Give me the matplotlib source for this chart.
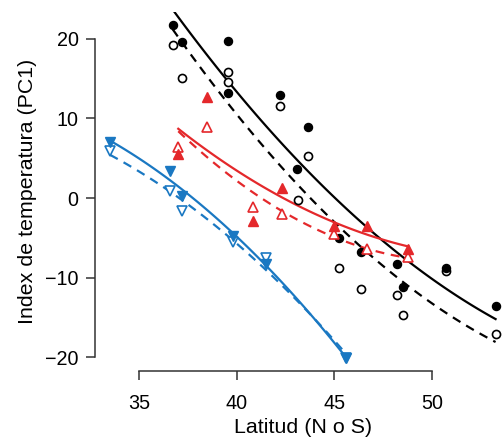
import matplotlib.pyplot as plt
import numpy as np

plt.rcParams['font.family'] = ['Liberation Sans', 'DejaVu Sans']

# black circles: filled = solid fit, open = dashed fit
lat_k = [36.71, 37.17, 39.55, 39.55, 42.20, 43.62, 43.06, 45.24, 46.35, 48.22, 48.51, 50.73, 53.25]
pc_k_fill = [21.70, 19.60, 19.72, 13.11, 12.89, 8.91, 3.67, -5.01, -6.82, -8.28, -11.13, -8.78, -13.52]
lat_k_open = [36.71, 37.17, 39.55, 39.55, 42.20, 43.62, 43.11, 45.24, 46.35, 48.22, 48.51, 50.73, 53.25]
pc_k_open = [19.18, 15.07, 15.82, 14.57, 11.51, 5.22, -0.19, -8.78, -11.42, -12.14, -14.65, -9.21, -17.08]

# red triangles (up)
lat_r = [37.00, 38.48, 40.83, 42.32, 44.96, 46.64, 48.79]
pc_r_fill = [5.47, 12.68, -2.83, 1.28, -3.46, -3.55, -6.39]
pc_r_open = [6.39, 8.91, -1.16, -1.99, -4.50, -6.39, -7.45]

# blue triangles (down)
lat_b = [33.50, 36.57, 37.17, 39.81, 41.47, 45.61]
pc_b_fill = [7.02, 3.37, 0.31, -4.72, -8.28, -20.03]
pc_b_open = [5.89, 0.94, -1.57, -5.56, -7.57, -20.03]

red = '#e4282b'
blue = '#1a78c2'

fig = plt.figure(figsize=(5.04, 4.38), dpi=100)
ax = fig.add_axes([94.5/504, 1 - 371/438, (511 - 94.5)/504, (371 - 11.7)/438])
ax.set_xlim(32.71, 54.04)
ax.set_ylim(-21.7, 23.37)


def fit(x, y, **kw):
    c = np.polyfit(x, y, 2)
    xs = np.linspace(min(x), max(x), 100)
    ax.plot(xs, np.polyval(c, xs), **kw)


fit(lat_k, pc_k_fill, color='black', lw=1.6)
fit(lat_k_open, pc_k_open, color='black', lw=1.6, ls=(0, (4, 3)))
fit(lat_r, pc_r_fill, color=red, lw=1.6)
fit(lat_r, pc_r_open, color=red, lw=1.6, ls=(0, (4, 3)))
fit(lat_b, pc_b_fill, color=blue, lw=1.6)
fit(lat_b, pc_b_open, color=blue, lw=1.6, ls=(0, (4, 3)))

ax.plot(lat_k_open, pc_k_open, 'o', ms=5.8, mfc='white', mec='black', mew=1.2, clip_on=False)
ax.plot(lat_k, pc_k_fill, 'o', ms=5.8, color='black', clip_on=False)
ax.plot(lat_r, pc_r_open, '^', ms=6.8, mfc='white', mec=red, mew=1.2)
ax.plot(lat_r, pc_r_fill, '^', ms=6.8, color=red)
ax.plot(lat_b, pc_b_open, 'v', ms=6.8, mfc='white', mec=blue, mew=1.2)
ax.plot(lat_b, pc_b_fill, 'v', ms=6.8, color=blue)

for s in ['top', 'right']:
    ax.spines[s].set_visible(False)
ax.spines['left'].set_bounds(-20, 20)
ax.spines['bottom'].set_bounds(35, 50)
for s in ['left', 'bottom']:
    ax.spines[s].set_linewidth(1.1)
    ax.spines[s].set_color('#333333')

ax.set_xticks([35, 40, 45, 50])
ax.set_yticks([-20, -10, 0, 10, 20])
ax.set_yticklabels(['\u221220', '\u221210', '0', '10', '20'])
ax.tick_params(length=6.5, width=1.1, color='#333333', labelsize=14.2)
ax.tick_params(axis='x', pad=10)
ax.tick_params(axis='y', pad=5)
ax.set_xlabel('Latitud (N o S)', fontsize=15.4, labelpad=4)
ax.set_ylabel('Index de temperatura (PC1)', fontsize=15.4, labelpad=6)

fig.savefig('out.png', dpi=100)
